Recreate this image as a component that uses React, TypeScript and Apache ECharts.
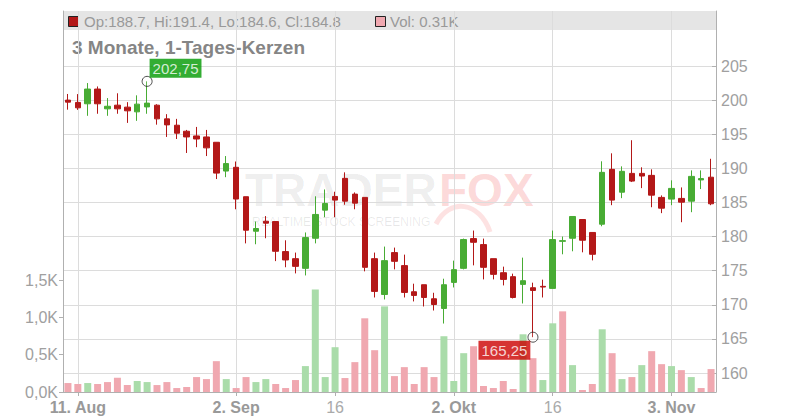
import React, { useEffect, useRef } from 'react';
import * as echarts from 'echarts';

const dates = [
  '2025-08-08', '2025-08-11', '2025-08-12', '2025-08-13', '2025-08-14', '2025-08-15',
  '2025-08-18', '2025-08-19', '2025-08-20', '2025-08-21', '2025-08-22',
  '2025-08-25', '2025-08-26', '2025-08-27', '2025-08-28', '2025-08-29',
  '2025-09-01', '2025-09-02', '2025-09-03', '2025-09-04', '2025-09-05',
  '2025-09-08', '2025-09-09', '2025-09-10', '2025-09-11', '2025-09-12',
  '2025-09-15', '2025-09-16', '2025-09-17', '2025-09-18', '2025-09-19',
  '2025-09-22', '2025-09-23', '2025-09-24', '2025-09-25', '2025-09-26',
  '2025-09-29', '2025-09-30', '2025-10-01', '2025-10-02', '2025-10-03',
  '2025-10-06', '2025-10-07', '2025-10-08', '2025-10-09', '2025-10-10',
  '2025-10-13', '2025-10-14', '2025-10-15', '2025-10-16', '2025-10-17',
  '2025-10-20', '2025-10-21', '2025-10-22', '2025-10-23', '2025-10-24',
  '2025-10-27', '2025-10-28', '2025-10-29', '2025-10-30', '2025-10-31',
  '2025-11-03', '2025-11-04', '2025-11-05', '2025-11-06', '2025-11-07',
];

const opens = [
  200.0, 199.66, 199.46, 201.62, 198.72, 199.26, 198.97, 198.28, 199.0, 199.26,
  197.25, 196.32, 195.44, 194.75, 194.6, 193.82, 189.6, 190.15, 185.84, 180.78,
  182.25, 182.2, 177.8, 176.76, 175.34, 179.75, 183.87, 185.88, 188.53, 186.22,
  185.74, 176.76, 171.51, 177.65, 175.74, 171.91, 172.94, 170.88, 169.46, 173.28,
  175.34, 179.7, 178.82, 176.76, 174.7, 174.12, 172.99, 172.5, 172.7, 172.4,
  179.3, 179.75, 182.5, 180.6, 181.81, 189.85, 186.5, 189.26, 189.26, 188.97,
  185.74, 185.49, 185.59, 185.19, 188.3, 188.7,
];
const closes = [
  199.7, 198.87, 201.62, 199.46, 199.1, 198.72, 198.43, 199.41, 199.56, 197.25,
  196.37, 195.15, 194.6, 194.3, 193.0, 189.3, 190.7, 185.5, 180.93, 181.18,
  181.96, 177.84, 176.57, 175.63, 179.85, 183.24, 184.85, 185.34, 185.19, 184.9,
  175.49, 171.96, 176.47, 176.37, 171.81, 171.37, 171.07, 170.04, 172.94, 175.15,
  179.56, 179.16, 175.49, 174.46, 173.72, 171.07, 173.53, 172.1, 172.6, 179.56,
  179.4, 182.94, 179.46, 177.4, 189.41, 185.34, 189.56, 188.13, 188.87, 186.07,
  184.16, 187.06, 185.04, 188.82, 188.5, 184.8,
];
const lows = [
  198.6, 198.57, 197.7, 198.0, 197.7, 198.0, 196.66, 196.96, 198.0, 196.4,
  194.6, 194.3, 192.25, 193.1, 191.8, 188.43, 188.7, 184.0, 179.0, 178.87,
  179.75, 176.4, 175.5, 174.6, 174.3, 179.0, 182.84, 182.84, 184.66, 184.0,
  174.9, 171.07, 170.78, 175.19, 171.07, 170.49, 169.75, 169.16, 167.25, 172.54,
  175.19, 175.78, 173.72, 173.72, 172.84, 170.93, 170.19, 165.25, 171.07, 172.4,
  177.4, 177.84, 177.69, 176.51, 181.51, 184.6, 185.63, 187.99, 187.1, 184.3,
  183.43, 184.6, 182.1, 183.57, 186.96, 184.6,
];
const highs = [
  200.9, 200.88, 202.5, 202.0, 200.3, 201.0, 199.7, 200.7, 202.75, 199.4,
  197.94, 197.25, 195.63, 196.07, 195.63, 193.82, 191.8, 191.0, 185.84, 182.2,
  183.0, 182.2, 179.45, 177.65, 180.6, 185.9, 186.9, 186.57, 189.41, 186.47,
  185.74, 177.65, 178.53, 178.38, 177.35, 173.09, 172.94, 171.76, 173.82, 176.47,
  179.7, 180.88, 179.7, 176.76, 175.59, 174.56, 176.91, 173.24, 173.68, 180.88,
  180.0, 182.94, 182.5, 180.6, 191.03, 192.2, 190.29, 194.12, 190.15, 189.85,
  186.03, 188.24, 187.2, 189.7, 189.7, 191.4,
];
const volumes = [
  120, 107, 120, 107, 133, 191, 93, 147, 133, 93,
  133, 53, 67, 200, 173, 413, 173, 53, 200, 133,
  173, 107, 53, 160, 347, 1373, 200, 600, 187, 400,
  987, 560, 1147, 213, 333, 107, 333, 200, 747, 147,
  520, 613, 80, 53, 147, 40, 773, 453, 160, 920,
  1080, 360, 27, 107, 840, 520, 173, 200, 360, 547,
  373, 347, 293, 200, 53, 307,
];

const tickDates = ['2025-08-11', '2025-09-02', '2025-09-16', '2025-10-02', '2025-10-16', '2025-11-03'];
const tickLabels = ['11. Aug', '2. Sep', '16', '2. Okt', '16', '3. Nov'];

const priceMin = 160;
const priceMax = 205;
const priceStep = 5;
const volMin = 0;
const volMax = 1500;
const volStep = 500;

const highMark = { date: '2025-08-20', value: 202.75, label: '202,75' };
const lowMark = { date: '2025-10-14', value: 165.25, label: '165,25' };

const UP = '#48ac34';
const DOWN = '#b31818';
const VOL_UP = '#aadcaa';
const VOL_DOWN = '#f0a8b0';
const GRID = '#dcdcdc';
const AXIS = '#b0b0b0';
const FONT = '"Liberation Sans", Arial, sans-serif';

export default function App() {
  const ref = useRef<HTMLDivElement>(null);

  useEffect(() => {
    if (!ref.current) return;
    const chart = echarts.init(ref.current, undefined, { renderer: 'svg' });

    const tickIdx = tickDates.map((d) => dates.indexOf(d));
    const isTick = (i: number) => tickIdx.includes(i);

    const candleData = dates.map((_, i) => [opens[i], closes[i], lows[i], highs[i]]);
    const volData = volumes.map((v, i) => {
      const up = i === 0 ? closes[i] > opens[i] : closes[i] > closes[i - 1];
      return { value: v, itemStyle: { color: up ? VOL_UP : VOL_DOWN } };
    });

    const last = dates.length - 1;
    const legendText = `Op:${opens[last].toFixed(1)}, Hi:${highs[last].toFixed(1)}, Lo:${lows[last].toFixed(1)}, Cl:${closes[last].toFixed(1)}`;
    const volText = `Vol: ${(volumes[last] / 1000).toFixed(2)}K`;

    const option: any = {
      animation: false,
      backgroundColor: '#fff',
      textStyle: { fontFamily: FONT },
      grid: [
        { left: 63, width: 653, top: 66, height: 307 },
        { left: 63, width: 653, top: 280, height: 112 },
        { left: 63, width: 653, top: 11, height: 381 },
      ],
      xAxis: [
        {
          type: 'category', gridIndex: 0, data: dates, boundaryGap: true,
          axisLine: { show: false }, axisTick: { show: false }, axisLabel: { show: false }, splitLine: { show: false },
        },
        {
          type: 'category', gridIndex: 1, data: dates, boundaryGap: true,
          axisLine: { show: true, lineStyle: { color: AXIS } },
          axisTick: { show: true, interval: (i: number) => isTick(i), alignWithLabel: true, length: 4, lineStyle: { color: AXIS } },
          axisLabel: {
            show: true,
            interval: (i: number) => isTick(i),
            margin: 7,
            formatter: (v: string) => {
              const k = tickDates.indexOf(v);
              const lab = k >= 0 ? tickLabels[k] : '';
              return lab.includes('.') ? `{b|${lab}}` : `{n|${lab}}`;
            },
            rich: {
              b: { fontWeight: 'bold', fontSize: 16, color: '#999', fontFamily: FONT },
              n: { fontSize: 16, color: '#aaa', fontFamily: FONT },
            },
          },
          splitLine: { show: false },
        },
        {
          type: 'category', gridIndex: 2, data: dates, boundaryGap: true,
          axisLine: { show: false }, axisTick: { show: false }, axisLabel: { show: false },
          splitLine: { show: true, interval: (i: number) => isTick(i), alignWithLabel: true, lineStyle: { color: GRID, width: 1 } },
        },
      ],
      yAxis: [
        {
          type: 'value', gridIndex: 0, position: 'right', min: priceMin, max: priceMax, interval: priceStep,
          axisLine: { show: false },
          axisTick: { show: true, inside: true, length: 4, lineStyle: { color: AXIS } },
          axisLabel: { color: '#a0a0a0', fontSize: 16, margin: 5, fontFamily: FONT },
          splitLine: { show: true, lineStyle: { color: GRID, width: 1 } },
        },
        {
          type: 'value', gridIndex: 1, position: 'left', min: volMin, max: volMax, interval: volStep,
          axisLine: { show: false },
          axisTick: { show: true, inside: false, length: 4, lineStyle: { color: AXIS } },
          axisLabel: {
            color: '#a0a0a0', fontSize: 16, margin: 5, fontFamily: FONT,
            formatter: (v: number) => (v / 1000).toFixed(1).replace('.', ',') + 'K',
          },
          splitLine: { show: false },
        },
        {
          type: 'value', gridIndex: 2, position: 'left', min: 0, max: 1,
          axisLine: { show: true, lineStyle: { color: AXIS } },
          axisTick: { show: false }, axisLabel: { show: false }, splitLine: { show: false },
        },
        {
          type: 'value', gridIndex: 2, position: 'right', min: 0, max: 1,
          axisLine: { show: true, lineStyle: { color: AXIS } },
          axisTick: { show: false }, axisLabel: { show: false }, splitLine: { show: false },
        },
      ],
      graphic: [
        { type: 'text', x: 245, y: 190, silent: true, style: { text: 'TRADER', fill: 'rgba(0,0,0,0.08)', font: `bold 46px ${FONT}`, lineHeight: 40, verticalAlign: 'middle', textVerticalAlign: 'middle' } },
        { type: 'text', x: 439, y: 190, silent: true, style: { text: 'FOX', fill: 'rgba(240,60,60,0.2)', font: `bold 46px ${FONT}`, lineHeight: 40, verticalAlign: 'middle', textVerticalAlign: 'middle' } },
        { type: 'text', x: 252, y: 222, silent: true, style: { text: 'REALTIME STOCK SCREENING', fill: 'rgba(0,0,0,0.09)', font: `12px ${FONT}`, lineHeight: 12, verticalAlign: 'middle', textVerticalAlign: 'middle' } },
        { type: 'bezierCurve', silent: true, shape: { x1: 436, y1: 224, x2: 490, y2: 232, cpx1: 450, cpy1: 197, cpx2: 480, cpy2: 202 }, style: { stroke: 'rgba(240,60,60,0.15)', lineWidth: 5, fill: null } },
        { type: 'rect', silent: true, shape: { x: 63, y: 11, width: 653, height: 19 }, style: { fill: 'rgba(0,0,0,0.1)' } },
        { type: 'rect', silent: true, shape: { x: 68.5, y: 16.5, width: 10, height: 10 }, style: { fill: DOWN, stroke: '#222', lineWidth: 1 } },
        { type: 'text', x: 84, y: 21.5, silent: true, style: { text: legendText, fill: '#999', font: `15px ${FONT}`, verticalAlign: 'middle', textVerticalAlign: 'middle' } },
        { type: 'rect', silent: true, shape: { x: 375.5, y: 16.5, width: 10, height: 10 }, style: { fill: VOL_DOWN, stroke: '#222', lineWidth: 1 } },
        { type: 'text', x: 390, y: 21.5, silent: true, style: { text: volText, fill: '#999', font: `15px ${FONT}`, verticalAlign: 'middle', textVerticalAlign: 'middle' } },
        { type: 'text', x: 72, y: 47.5, silent: true, style: { text: '3 Monate, 1-Tages-Kerzen', fill: '#858585', font: `bold 19px ${FONT}`, verticalAlign: 'middle', textVerticalAlign: 'middle' } },
      ],
      series: [
        {
          type: 'bar', xAxisIndex: 1, yAxisIndex: 1, data: volData, barWidth: 7, silent: true, z: 1,
        },
        {
          type: 'candlestick', xAxisIndex: 0, yAxisIndex: 0, data: candleData, barWidth: 6, silent: true, z: 3,
          itemStyle: { color: UP, color0: DOWN, borderColor: UP, borderColor0: DOWN, borderWidth: 1 },
        },
        {
          type: 'scatter', xAxisIndex: 0, yAxisIndex: 0, silent: true, z: 5,
          symbol: 'circle', symbolSize: 10,
          itemStyle: { color: 'rgba(255,255,255,0.2)', borderColor: '#222', borderWidth: 1 },
          data: [
            {
              value: [highMark.date, highMark.value],
              label: { show: true, formatter: highMark.label, position: [8, -17], color: '#fff', backgroundColor: '#009900', padding: [1, 3, 1, 3], fontSize: 15, lineHeight: 17, fontFamily: FONT },
            },
            {
              value: [lowMark.date, lowMark.value],
              label: { show: true, formatter: lowMark.label, position: [-49, 9], color: '#fff', backgroundColor: '#cc0000', padding: [1, 3, 1, 3], fontSize: 15, lineHeight: 17, fontFamily: FONT },
            },
          ],
        },
      ],
    };

    chart.setOption(option);
    return () => chart.dispose();
  }, []);

  return (
    <div
      ref={ref}
      style={{ position: 'fixed', left: 0, top: 0, width: 800, height: 420, background: '#fff' }}
    />
  );
}
